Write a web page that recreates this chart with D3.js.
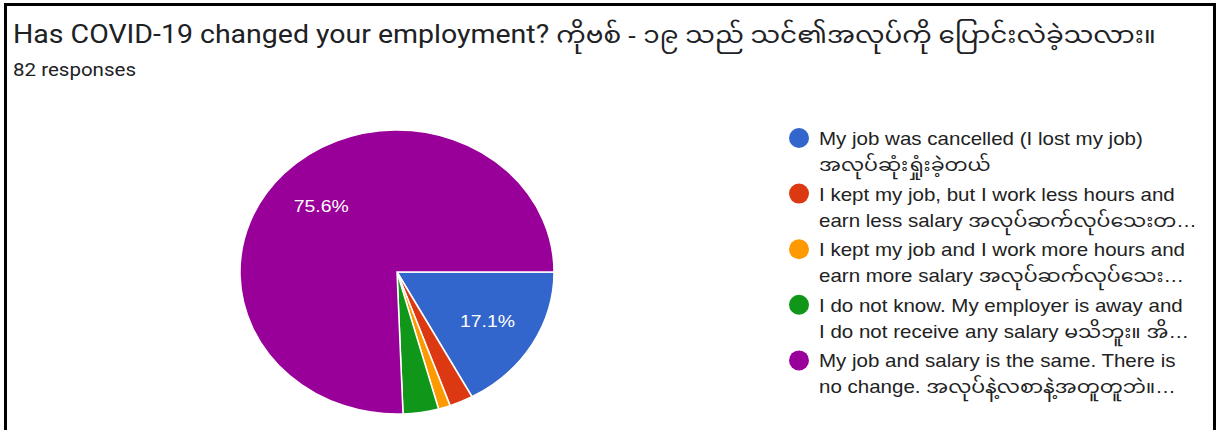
<!DOCTYPE html>
<html>
<head>
<meta charset="utf-8">
<script src="https://cdn.jsdelivr.net/npm/d3@7"></script>
<style>
  body { margin: 0; background: #fff; }
  svg { display: block; }
</style>
</head>
<body>
<script>
// responses per answer (82 total)
let categories = [
  ['My job was cancelled (I lost my job)', 'အလုပ်ဆုံးရှုံးခဲ့တယ်'],
  ['I kept my job, but I work less hours and', 'earn less salary အလုပ်ဆက်လုပ်သေးတ…'],
  ['I kept my job and I work more hours and', 'earn more salary အလုပ်ဆက်လုပ်သေး…'],
  ['I do not know. My employer is away and', 'I do not receive any salary မသိဘူး။ အိ…'],
  ['My job and salary is the same. There is', 'no change. အလုပ်နဲ့လစာနဲ့အတူတူဘဲ။…']
];
let counts = [14, 2, 1, 3, 62];
let colors = ['#3366cc', '#dc3912', '#ff9900', '#109618', '#990099'];
let titleEn = 'Has COVID-19 changed your employment? ';
let titleMy = 'ကိုဗစ် - ၁၉ သည် သင်၏အလုပ်ကို ပြောင်းလဲခဲ့သလား။';
let subtitle = '82 responses';

let W = 1218, H = 430;
let sx = 1.14; // the screenshot is stretched sideways
let myFont = '"Noto Sans Myanmar", "Padauk", "Myanmar Text"';
let svg = d3.select('body').append('svg').attr('width', W).attr('height', H);

// frame (screenshot border)
svg.append('rect').attr('x', 5.5).attr('y', 4.5).attr('width', 1209).attr('height', 440)
  .attr('fill', 'none').attr('stroke', '#000').attr('stroke-width', 3);

let tt = svg.append('text')
  .attr('transform', 'translate(13,43) scale(' + sx + ',1)')
  .attr('font-family', 'Roboto, ' + myFont + ', sans-serif')
  .attr('fill', '#202124');
tt.append('tspan').attr('font-size', '25px').text(titleEn);
tt.append('tspan').attr('font-size', '23px').attr('font-family', myFont + ', sans-serif').text(titleMy);

svg.append('text')
  .attr('transform', 'translate(13,76) scale(' + sx + ',1)')
  .text(subtitle)
  .attr('font-family', 'Roboto, sans-serif')
  .attr('font-size', '18px')
  .attr('fill', '#202124');

// pie (stretched horizontally, like the photo)
let cx = 397, cy = 272, ry = 142, rx = 157;
let total = d3.sum(counts);
let pie = d3.pie().sort(null).startAngle(Math.PI / 2).endAngle(Math.PI / 2 + 2 * Math.PI);
let arcs = pie(counts);
let arc = d3.arc().innerRadius(0).outerRadius(ry);
let labelArc = d3.arc().innerRadius(ry * 0.67).outerRadius(ry * 0.67);

let g = svg.append('g').attr('transform', 'translate(' + cx + ',' + cy + ') scale(' + (rx / ry) + ',1)');
g.selectAll('path').data(arcs).enter().append('path')
  .attr('d', arc)
  .attr('fill', function(d, i) { return colors[i]; })
  .attr('stroke', '#fff')
  .attr('stroke-width', 1.5)
  .attr('vector-effect', 'non-scaling-stroke');

let lab = svg.append('g').attr('transform', 'translate(' + cx + ',' + cy + ')');
lab.selectAll('text').data(arcs.filter(function(d) { return d.value / total > 0.05; }))
  .enter().append('text')
  .attr('transform', function(d) {
    let c = labelArc.centroid(d);
    return 'translate(' + (c[0] * rx / ry) + ',' + (c[1] + 6) + ') scale(' + sx + ',1)';
  })
  .attr('text-anchor', 'middle')
  .text(function(d) { return (d.value / total * 100).toFixed(1) + '%'; })
  .attr('font-family', 'Arial, "Liberation Sans", sans-serif')
  .attr('font-size', '17px')
  .attr('fill', '#fff');

// legend
let leg = svg.append('g');
let rows = leg.selectAll('g').data(categories).enter().append('g')
  .attr('transform', function(d, i) { return 'translate(799,' + (138 + i * 55.6) + ')'; });
rows.append('circle').attr('r', 10).attr('fill', function(d, i) { return colors[i]; });
rows.each(function(d) {
  let t = d3.select(this).append('text')
    .attr('transform', 'translate(20,0) scale(' + sx + ',1)')
    .attr('font-family', 'Arial, "Liberation Sans", ' + myFont + ', sans-serif')
    .attr('font-size', '18px')
    .attr('fill', '#222');
  t.append('tspan').attr('x', 0).attr('y', 7).text(d[0]);
  t.append('tspan').attr('x', 0).attr('y', 33).text(d[1]);
});
</script>
</body>
</html>
